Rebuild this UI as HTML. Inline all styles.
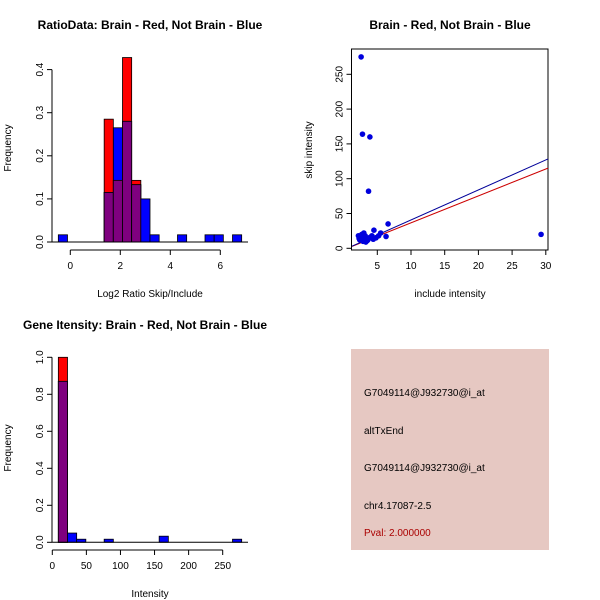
<!DOCTYPE html>
<html><head><meta charset="utf-8"><style>
body{margin:0;background:#fff}
svg{display:block;font-family:"Liberation Sans",sans-serif}
</style></head><body>
<svg id="c" width="600" height="600" viewBox="0 0 600 600"></svg>
<script>
// Panel 1: log2 ratio histogram
const ratioBinStart = -0.479, ratioBinWidth = 0.3667;
const ratioBlue = [0.0167,0,0,0,0,0.115,0.265,0.28,0.133,0.1,0.0167,0,0,0.0167,0,0,0.0167,0.0167,0,0.0167];
const ratioRed  = [0,0,0,0,0,0.285,0.143,0.428,0.143,0,0,0,0,0,0,0,0,0,0,0];
const ratioXTicks = [0,2,4,6];
const ratioYTicks = [0,0.1,0.2,0.3,0.4];
// Panel 2: scatter
const scatterX = [2.6,2.8,3.9,3.7,6.6,4.5,29.3,6.3,5.5,5.2,2.2,2.5,2.7,3.0,3.2,3.4,3.6,4.0,4.2,2.4,2.9,3.1,3.3,3.5,3.8,2.3,2.6,3.0,4.4,4.8];
const scatterY = [275,164,160,82,35,26,20,17,22,18,18,15,20,22,18,14,12,16,18,12,10,13,9,11,15,14,17,20,13,15];
const scatterXTicks = [5,10,15,20,25,30];
const scatterYTicks = [0,50,100,150,200,250];
const fitBlue = [-6.8,4.46];
const fitRed = [-6.0,4.0];
// Panel 3: intensity histogram
const intBinStart = 8.85, intBinWidth = 13.45;
const intBlue = [0.87,0.05,0.0167,0,0,0.0167,0,0,0,0,0,0.033,0,0,0,0,0,0,0,0.0167];
const intRed  = [1.0,0,0,0,0,0,0,0,0,0,0,0,0,0,0,0,0,0,0,0];
const intXTicks = [0,50,100,150,200,250];
const intYTicks = [0,0.2,0.4,0.6,0.8,1.0];

const svg = document.getElementById('c');
const NS = 'http://www.w3.org/2000/svg';
function mk(tag, attrs, parent){const e=document.createElementNS(NS,tag);for(const k in attrs)e.setAttribute(k,attrs[k]);(parent||svg).appendChild(e);return e;}
function txt(s, attrs, parent){const e=mk('text',attrs,parent);e.textContent=s;return e;}

function hist(g, sx, sy, start, w, red, blue){
  for(let i=0;i<red.length;i++){
    const x0=sx(start+i*w), x1=sx(start+(i+1)*w);
    if(red[i]>0){const r=mk('rect',{x:x0,y:sy(red[i]),width:x1-x0,height:sy(0)-sy(red[i]),fill:'#ff0000',stroke:'#000','stroke-width':0.8},g);
      }
    if(blue[i]>0){const b=mk('rect',{x:x0,y:sy(blue[i]),width:x1-x0,height:sy(0)-sy(blue[i]),fill:'#0000ff',stroke:'#000','stroke-width':0.8},g);
      }
    const m=Math.min(red[i],blue[i]);
    if(m>0){const p=mk('rect',{x:x0,y:sy(m),width:x1-x0,height:sy(0)-sy(m),fill:'#7f007f',stroke:'#000','stroke-width':0.8},g);
      }
  }
}
function yAxis(g, x, sy, ticks, fmt){
  mk('line',{x1:x,x2:x,y1:sy(ticks[0]),y2:sy(ticks[ticks.length-1]),stroke:'#000'},g);
  ticks.forEach(t=>{mk('line',{x1:x-5,x2:x,y1:sy(t),y2:sy(t),stroke:'#000'},g);
    txt(fmt(t),{x:x-9,y:sy(t),'font-size':10,'text-anchor':'middle',transform:`rotate(-90 ${x-9} ${sy(t)})`},g);});
}
function xAxis(g, y, sx, ticks){
  mk('line',{x1:sx(ticks[0]),x2:sx(ticks[ticks.length-1]),y1:y,y2:y,stroke:'#000'},g);
  ticks.forEach(t=>{mk('line',{x1:sx(t),x2:sx(t),y1:y,y2:y+5,stroke:'#000'},g);
    txt(String(t),{x:sx(t),y:y+19,'font-size':10,'text-anchor':'middle'},g);});
}

// Panel 1
{const g=mk('g',{});
 const sx=v=>70.3+v*25, sy=v=>242-v*431;
 hist(g,sx,sy,ratioBinStart,ratioBinWidth,ratioRed,ratioBlue);
 mk('line',{x1:52,x2:248,y1:242,y2:242,stroke:'#000'},g);
 yAxis(g,52,sy,ratioYTicks,t=>t.toFixed(1));
 xAxis(g,250,sx,ratioXTicks);
 txt('RatioData: Brain - Red, Not Brain - Blue',{x:150,y:29,'font-size':12,'font-weight':'bold','text-anchor':'middle'},g);
 txt('Log2 Ratio Skip/Include',{x:150,y:297,'font-size':10,'text-anchor':'middle'},g);
 txt('Frequency',{x:11,y:148,'font-size':10,'text-anchor':'middle',transform:'rotate(-90 11 148)'},g);
}
// Panel 2
{const g=mk('g',{});
 const sx=v=>377.3+(v-5)*6.74, sy=v=>248.3-v*0.696;
 mk('rect',{x:351.5,y:49,width:196.5,height:201,fill:'none',stroke:'#000'},g);
 const l1=mk('line',{x1:352,y1:sy(fitRed[0]+fitRed[1]*2.2),x2:548,y2:sy(fitRed[0]+fitRed[1]*30.3),stroke:'#cc0000'},g);
 
 const l2=mk('line',{x1:352,y1:sy(fitBlue[0]+fitBlue[1]*2.2),x2:548,y2:sy(fitBlue[0]+fitBlue[1]*30.3),stroke:'#000099'},g);
 
 scatterX.forEach((x,i)=>{const c=mk('circle',{cx:sx(x),cy:sy(scatterY[i]),r:2.8,fill:'#0000dd'},g);
   });
 yAxis(g,351.5,sy,scatterYTicks,t=>String(t));
 xAxis(g,250,sx,scatterXTicks);
 txt('Brain - Red, Not Brain - Blue',{x:450,y:29,'font-size':12,'font-weight':'bold','text-anchor':'middle'},g);
 txt('include intensity',{x:450,y:297,'font-size':10,'text-anchor':'middle'},g);
 txt('skip intensity',{x:312,y:150,'font-size':10,'text-anchor':'middle',transform:'rotate(-90 312 150)'},g);
}
// Panel 3
{const g=mk('g',{});
 const sx=v=>52.3+v*0.6816, sy=v=>542.3-v*185;
 hist(g,sx,sy,intBinStart,intBinWidth,intRed,intBlue);
 mk('line',{x1:52,x2:248,y1:542.3,y2:542.3,stroke:'#000'},g);
 yAxis(g,52,sy,intYTicks,t=>t.toFixed(1));
 xAxis(g,550,sx,intXTicks);
 txt('Gene Itensity: Brain - Red, Not Brain - Blue',{x:145,y:329,'font-size':12,'font-weight':'bold','text-anchor':'middle'},g);
 txt('Intensity',{x:150,y:597,'font-size':10,'text-anchor':'middle'},g);
 txt('Frequency',{x:11,y:448,'font-size':10,'text-anchor':'middle',transform:'rotate(-90 11 448)'},g);
}
// Panel 4: info
{const g=mk('g',{});
 mk('rect',{x:351,y:349,width:198,height:201,fill:'#e6c8c2'},g);
 const lines=[['G7049114@J932730@i_at',396,'#000'],['altTxEnd',434,'#000'],['G7049114@J932730@i_at',471,'#000'],['chr4.17087-2.5',509,'#000'],['Pval: 2.000000',536,'#aa0000']];
 lines.forEach(l=>{const t=txt(l[0],{x:364,y:l[1],'font-size':10,fill:l[2]},g);
   });
}
</script>
</body></html>
